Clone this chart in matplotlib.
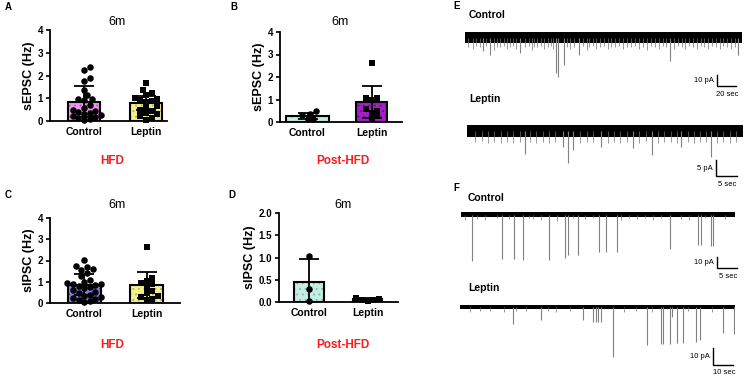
import matplotlib.pyplot as plt
import numpy as np

plt.rcParams['font.family'] = ['Liberation Sans', 'DejaVu Sans']
plt.rcParams['hatch.linewidth'] = 0.6

W, H = 745, 378

# ---- bar chart data (Hz) ----
groups = ['Control', 'Leptin']

a_ctrl = [2.39, 2.25, 1.88, 1.74, 1.37, 1.15, 0.96, 0.96, 0.93, 0.72, 0.55, 0.5,
          0.45, 0.4, 0.35, 0.3, 0.28, 0.22, 0.18, 0.12, 0.08, 0.05]
a_lep = [1.66, 1.37, 1.23, 1.15, 1.02, 0.95, 0.93, 0.88, 0.85, 0.65, 0.6, 0.5,
         0.45, 0.35, 0.3, 0.22, 0.15, 0.06]
a_mean = [0.85, 0.8]
a_sd = [0.68, 0.3]

b_ctrl = [0.47, 0.36, 0.3, 0.14, 0.12]
b_lep = [2.64, 1.05, 1.05, 1.0, 0.58, 0.5, 0.4, 0.25, 0.15]
b_mean = [0.28, 0.9]
b_sd = [0.14, 0.7]

c_ctrl = [2.04, 1.76, 1.68, 1.62, 1.55, 1.4, 1.25, 1.1, 1.0, 0.95, 0.9, 0.88, 0.85,
          0.8, 0.75, 0.7, 0.6, 0.5, 0.45, 0.4, 0.35, 0.3, 0.25, 0.2, 0.15, 0.1, 0.05]
c_lep = [2.65, 1.18, 1.02, 0.95, 0.9, 0.75, 0.55, 0.45, 0.35, 0.3, 0.2, 0.15]
c_mean = [0.87, 0.84]
c_sd = [0.49, 0.6]

d_ctrl = [1.03, 0.29, 0.03]
d_lep = [0.1, 0.07, 0.05, 0.04, 0.02]
d_mean = [0.46, 0.06]
d_sd = [0.51, 0.03]

# ---- trace data: event times (s) and amplitudes (pA, downward) ----
e1_ev_t = [19, 26, 58, 96, 97.5, 104, 120, 216, 287]
e1_ev_a = [12, 16, 14, 32, 36, 25, 16, 21, 16]
e1_sm_t = [3, 8, 12, 16, 22, 30, 34, 37, 41, 44, 47, 50, 54, 63, 67, 70, 73, 76, 80, 83,
           87, 90, 93, 107, 110, 115, 124, 128, 131, 135, 138, 142, 146, 150, 154, 158,
           162, 166, 170, 175, 179, 183, 187, 192, 196, 200, 204, 208, 212, 220, 224,
           228, 232, 236, 240, 244, 248, 252, 256, 260, 264, 268, 272, 276, 280, 284]
e1_sm_a = [9, 10, 8, 9, 8, 11, 9, 9, 8, 10, 9, 8, 10, 9, 8, 11, 9, 9, 8, 10,
           9, 8, 10, 9, 10, 9, 8, 11, 9, 8, 10, 9, 8, 10, 9, 9,
           8, 10, 9, 9, 8, 10, 9, 11, 8, 9, 10, 8, 9, 10, 8,
           9, 10, 8, 9, 10, 8, 9, 10, 8, 9, 10, 8, 9, 10, 9]

e2_ev_t = [13.8, 22.9, 24, 25.2, 32, 39.5, 44, 51, 58]
e2_ev_a = [7.2, 5, 10, 6, 5, 5.3, 7.5, 5, 8]
e2_sm_t = [2, 3.5, 5, 6.5, 8, 9.5, 11, 12.5, 15, 16.5, 18, 19.5, 21, 27, 28.5, 30,
           33.5, 35, 36.5, 38, 41, 42.5, 45.5, 47, 48.5, 50, 52.5, 54, 55.5, 57,
           59.5, 61, 62.5, 64]
e2_sm_a = [3.5, 3.2, 3.8, 3.4, 3.6, 3.3, 3.9, 3.5, 3.4, 3.7, 3.3, 3.6, 3.5, 3.8, 3.4,
           3.5, 3.6, 3.3, 3.7, 3.4, 3.6, 3.2, 3.8, 3.5, 3.3, 3.6, 3.4, 3.7, 3.5, 3.3,
           3.6, 3.4, 3.8, 3.5]

f1_ev_t = [2.7, 10.2, 13.25, 15.4, 21.9, 26, 26.8, 29.2, 34.5, 36.25, 38.9, 52.25,
           59.3, 59.9, 62.4, 63]
f1_ev_a = [42, 40, 40, 41, 41, 39.5, 36.8, 36.8, 33.8, 33.8, 33.8, 31.6,
           27.7, 27.7, 29, 29]
f1_sm_t = [1, 4, 6, 9, 12, 17, 18, 20, 24, 28, 31, 33, 40, 42, 44, 46, 48, 50, 55,
           57, 61, 66]
f1_sm_a = [5, 4, 5, 3, 4, 3, 4, 5, 6, 3, 4, 3, 5, 3, 4, 3, 5, 3, 4, 5, 3, 4]

f2_ev_t = [26.7, 40.3, 61.7, 66.7, 67.8, 69.2, 70.3, 76.3, 93.7, 100.3, 101.3, 105,
           105.8, 108.3, 111.7, 118, 120, 131.7, 137]
f2_ev_a = [9.8, 7.8, 7.8, 8.8, 8.8, 8.8, 8.8, 29.4, 22.5, 22, 22, 22,
           5.9, 21.4, 21.4, 20.4, 19.4, 15.5, 15.9]
f2_sm_t = [5, 10, 15, 22, 28, 33, 44, 48, 55, 82, 88, 96, 114, 126]
f2_sm_a = [3, 2.2, 2.5, 3, 2.2, 2.5, 2.2, 3, 2.5, 3, 2.5, 3, 2.5, 3]

fig = plt.figure(figsize=(W / 100, H / 100), dpi=100)


def box(x0, y0, x1, y1):
    return [x0 / W, 1 - y1 / H, (x1 - x0) / W, (y1 - y0) / H]


def ftext(px, py, s, **kw):
    fig.text(px / W, 1 - py / H, s, ha=kw.pop('ha', 'center'), va=kw.pop('va', 'center'), **kw)


def swarm(ax, xc, vals, d):
    # simple beeswarm in display pixels, offsets converted back to data units
    vals = np.asarray(vals, float)
    ys = ax.transData.transform(np.column_stack([np.full(len(vals), xc), vals]))[:, 1]
    x0 = ax.transData.transform([[0, 0]])[0, 0]
    x1 = ax.transData.transform([[1, 0]])[0, 0]
    step = d * 0.5
    cands = [0.0]
    for k in range(1, 40):
        cands += [k * step, -k * step]
    placed = []
    offs = np.zeros(len(vals))
    for i in np.argsort(vals):
        y = ys[i]
        for c in cands:
            if all((c - px) ** 2 + (y - py) ** 2 >= d * d for px, py in placed):
                break
        placed.append((c, y))
        offs[i] = c
    return xc + offs / (x1 - x0)


def bar_panel(rect, xlim, ylim, yticks, yfmt, ylabel, centers, widths, means, sds,
              ctrl, lep, fcols, hcols):
    ax = fig.add_axes(rect)
    ax.set_xlim(xlim)
    ax.set_ylim(ylim)
    for sp in ['top', 'right']:
        ax.spines[sp].set_visible(False)
    for sp in ['left', 'bottom']:
        ax.spines[sp].set_linewidth(1.3)
    ax.set_yticks(yticks)
    ax.set_yticklabels([yfmt.format(v) for v in yticks], fontsize=7, fontweight='bold')
    ax.set_xticks(centers)
    ax.set_xticklabels(groups, fontsize=7.5, fontweight='bold')
    ax.tick_params(axis='y', length=3, width=1.2, pad=2)
    ax.tick_params(axis='x', length=0, pad=4)
    ax.set_ylabel(ylabel, fontsize=9, fontweight='bold', labelpad=2)
    for i in range(2):
        ax.bar(centers[i], means[i], width=widths[i], color=fcols[i], edgecolor=hcols[i],
               linewidth=0, hatch='...', zorder=1)
        ax.bar(centers[i], means[i], width=widths[i], fill=False, edgecolor='black',
               linewidth=1.5, zorder=2)
    xs = swarm(ax, centers[0], ctrl, 5.6)
    ax.scatter(xs, ctrl, s=22, marker='o', color='black', linewidths=0, zorder=3, clip_on=False)
    xs = swarm(ax, centers[1], lep, 5.6)
    ax.scatter(xs, lep, s=20, marker='s', color='black', linewidths=0, zorder=3, clip_on=False)
    ax.errorbar(centers, means, yerr=sds, fmt='none', ecolor='black', elinewidth=1.3,
                capsize=7, capthick=1.3, zorder=4)
    return ax


pink, pink_d = '#ee96ee', '#c050c0'
yel, yel_d = '#f2f08e', '#b8b040'
teal, teal_d = '#c4eee2', '#80b8a8'
purp, purp_d = '#a41fc4', '#6a0a88'
blue, blue_d = '#8282ea', '#4a4ab8'

bar_panel(box(50, 30, 167, 121), (-0.548, 1.339), (0, 4), [0, 1, 2, 3, 4], '{:g}',
          'sEPSC (Hz)', [0, 1], [0.52, 0.52], a_mean, a_sd, a_ctrl, a_lep,
          [pink, yel], [pink_d, yel_d])
bar_panel(box(280, 32, 402, 122), (-0.43, 1.476), (0, 4), [0, 1, 2, 3, 4], '{:g}',
          'sEPSC (Hz)', [0, 1], [0.67, 0.48], b_mean, b_sd, b_ctrl, b_lep,
          [teal, purp], [teal_d, purp_d])
bar_panel(box(50, 218, 180, 303), (-0.548, 1.53), (0, 4), [0, 1, 2, 3, 4], '{:g}',
          'sIPSC (Hz)', [0, 1], [0.52, 0.53], c_mean, c_sd, c_ctrl, c_lep,
          [blue, yel], [blue_d, yel_d])
bar_panel(box(279, 213, 398, 302), (-0.513, 1.521), (0, 2), [0, 0.5, 1.0, 1.5, 2.0], '{:.1f}',
          'sIPSC (Hz)', [0, 1], [0.51, 0.5], d_mean, d_sd, d_ctrl, d_lep,
          [teal, purp], [teal_d, purp_d])

# panel texts
for px, py, s in [(5, 7, 'A'), (230, 7, 'B'), (5, 195, 'C'), (228, 195, 'D'),
                  (453, 6, 'E'), (453, 188, 'F')]:
    ftext(px, py, s, fontsize=7, fontweight='bold', ha='left')
for px, py in [(117, 22), (340, 22), (117, 205), (343, 205)]:
    ftext(px, py, '6m', fontsize=9)
for px, py, s in [(112, 161, 'HFD'), (343, 161, 'Post-HFD'),
                  (112, 345, 'HFD'), (343, 345, 'Post-HFD')]:
    ftext(px, py, s, fontsize=8.5, fontweight='bold', color='#ff1a1a')


def trace(x0, x1, base, spp, ppp, top, bot, noise, ev_t, ev_a, sm_t, sm_a, label, lab_x, lab_y, sb):
    ax = fig.add_axes(box(x0, top, x1, bot))
    T = (x1 - x0) * spp
    ax.set_xlim(0, T)
    ax.set_ylim(-(bot - base) * ppp, (base - top) * ppp)
    ax.axis('off')
    ax.fill_between([0, T], -noise, noise, color='black', lw=0)
    ax.vlines(sm_t, 0, -np.asarray(sm_a), color='0.45', lw=0.5)
    ax.vlines(ev_t, 0, -np.asarray(ev_a), color='0.5', lw=0.8)
    ftext(lab_x, lab_y, label, fontsize=7.5, fontweight='bold', ha='left')
    # scale bar given in figure pixels
    vx, vy0, vy1, hx1, t1, t2 = sb
    tx = lambda p: (p - x0) * spp
    ty = lambda p: (base - p) * ppp
    ax.plot([tx(vx), tx(vx), tx(hx1)], [ty(vy0), ty(vy1), ty(vy1)], color='black',
            lw=1.0, clip_on=False, solid_joinstyle='miter')
    ftext(vx - 3, (vy0 + vy1) / 2, t1, fontsize=5.5, ha='right')
    ftext((vx + hx1) / 2 + 1, vy1 + 8, t2, fontsize=5.5)


trace(465, 742, 37.5, 20 / 19, 10 / 11, 25, 100, 5.0, e1_ev_t, e1_ev_a, e1_sm_t, e1_sm_a,
      'Control', 469, 15, (717, 75, 86, 736, '10 pA', '20 sec'))
trace(467, 743, 131, 5 / 21, 5 / 16, 118, 180, 1.9, e2_ev_t, e2_ev_a, e2_sm_t, e2_sm_a,
      'Leptin', 469, 99, (716, 160, 176, 737, '5 pA', '5 sec'))
trace(461, 735, 214.5, 0.25, 10 / 11, 205, 275, 2.3, f1_ev_t, f1_ev_a, f1_sm_t, f1_sm_a,
      'Control', 468, 198, (717, 257, 268, 737, '10 pA', '5 sec'))
trace(460, 735, 307, 0.5, 10 / 17, 298, 370, 1.2, f2_ev_t, f2_ev_a, f2_sm_t, f2_sm_a,
      'Leptin', 468, 288, (713, 348, 365, 733, '10 pA', '10 sec'))

fig.savefig('out.png', dpi=100)
